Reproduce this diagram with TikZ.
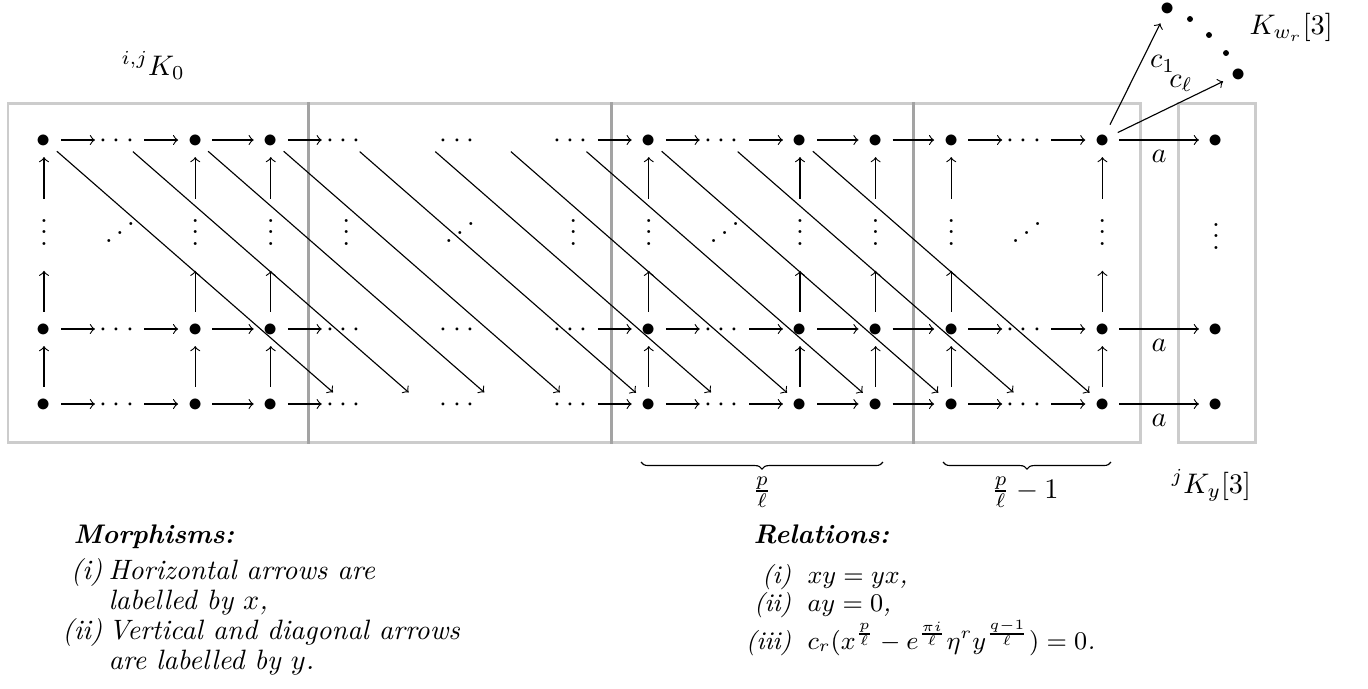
\documentclass[tikz,border=0pt]{standalone}
\usetikzlibrary{decorations.pathreplacing}
\newcommand\hdts{{\cdot}\kern1.92pt{\cdot}\kern1.92pt{\cdot}\kern2pt}
\newcommand\txtb{$\bullet$}
\newcommand\txth{$\hdts$}
\newcommand\txte{}
\newcommand\iddts{\reflectbox{$\ddots$}}
\begin{document}
\begin{tikzpicture}[x=0.3534pt,y=-0.3534pt,
  cellb/.style={circle, inner sep=0pt, minimum size=11.66pt, text height=5pt, text depth=0pt},
  cellh/.style={rectangle, inner sep=0pt, minimum width=17pt, minimum height=7.8pt, text height=5pt, text depth=0pt},
  celle/.style={cellh},
  vd/.style={inner sep=0pt, text height=16.2pt, text depth=8.9pt, anchor=base},
  dd/.style={inner sep=0pt, anchor=base},
  ar/.style={->},
  frame/.style={draw=black, draw opacity=0.2, line width=1.06pt},
  txt/.style={inner sep=0pt, font=\fontsize{9.9}{11}\selectfont\itshape},
  ttl/.style={inner sep=0pt, font=\fontsize{9.5}{11}\selectfont\bfseries\itshape},
  rtxt/.style={inner sep=0pt, font=\small\itshape},
  sdot/.style={circle, fill=black, inner sep=0pt, minimum size=2.1pt},
  brc/.style={decorate, decoration={brace, mirror, amplitude=2.5pt}}
]
\useasboundingbox (0,0) rectangle (1368,688);

% frames
\draw[frame] (8,103) rectangle (308,442);
\draw[frame] (308,103) rectangle (611,442);
\draw[frame] (611,103) rectangle (913,442);
\draw[frame] (913,103) rectangle (1140,442);
\draw[frame] (1178,103) rectangle (1255,442);

% grid cells
\foreach \r/\y in {0/140,2/329,3/404}{
  \foreach \c/\t in {0/b,1/h,2/b,3/b,4/h,5/e,6/e,7/h,8/b,9/h,10/b,11/b,12/b,13/h,14/b}{
    \node[cell\t] (n\r-\c) at ({44+75.6*\c},\y) {\csname txt\t\endcsname};
  }
  \node[cellb] (n\r-15) at (1216,\y) {\txtb};
  \node[cellh] (m\r) at (460,\y) {\txth};
}
% vertical dots
\foreach \c in {0,2,3,4,7,8,10,11,12,14}{
  \node[vd] (v-\c) at ({44+75.6*\c},245) {$\vdots$};
}
\node[vd] (v-15) at (1216,249) {$\vdots$};
% diagonal dots
\node[dd] (d1) at (120,245.5) {\iddts};
\node[dd] (d2) at (460,245.5) {\iddts};
\node[dd] (d3) at (724.8,245.5) {\iddts};
\node[dd] (d4) at (1026.8,245.5) {\iddts};

% horizontal arrows
\foreach \r in {0,2,3}{
  \foreach \c [evaluate=\c as \d using int(\c+1)] in {0,1,2,3,7,8,9,10,11,12,13}{
    \draw[ar] (n\r-\c) -- (n\r-\d);
  }
  \draw[ar] (n\r-14) -- node[below] {$a$} (n\r-15);
}
% vertical arrows
\foreach \c in {0,2,3,8,10,11,12,14}{
  \draw[ar] (n3-\c) -- (n2-\c);
  \draw[ar] (n2-\c) -- (v-\c);
  \draw[ar] (v-\c) -- (n0-\c);
}
% diagonal arrows
\foreach \c [evaluate=\c as \d using int(\c+4)] in {0,...,10}{
  \draw[ar] (n0-\c) -- (n3-\d);
}

% top right
\node[cellb] (t1) at (1168,8) {\txtb};
\node[cellb] (t2) at (1238.5,74) {\txtb};
\node[sdot] (s1) at (1190,19) {};
\node[sdot] (s2) at (1209,35) {};
\node[sdot] (s3) at (1226,53) {};
\draw[ar] (n0-14) -- node[pos=0.6, right] {$c_1$} (t1);
\draw[ar] (n0-14) -- node[pos=0.6, above] {$c_\ell$} (t2);
\node[inner sep=0pt, anchor=base west] (kw) at (1249,34) {$K_{w_r}[3]$};

% labels
\node[inner sep=0pt, anchor=base west] (k0) at (121,75) {${}^{i,j}K_0$};
\node[inner sep=0pt, anchor=base west] (ky) at (1171,493) {${}^{j}K_y[3]$};

% braces
\coordinate (b1a) at (641,462);
\coordinate (b1b) at (883,462);
\coordinate (b2a) at (943,462);
\coordinate (b2b) at (1111,462);
\draw[brc] (b1a) -- (b1b);
\draw[brc] (b2a) -- (b2b);
\node[inner sep=0pt, anchor=base] (bl1) at (762,498) {$\frac{p}{\ell}$};
\node[inner sep=0pt, anchor=base] (bl2) at (1025,498) {$\frac{p}{\ell}-1$};

% morphisms
\node[ttl, anchor=base west] (mh) at (73,543) {Morphisms:};
\node[txt, anchor=base east] (m1l) at (103,579) {(i)};
\node[txt, anchor=base west] (m1a) at (108,579) {Horizontal arrows are};
\node[txt, anchor=base west] (m1b) at (108,609) {labelled by $x$,};
\node[txt, anchor=base east] (m2l) at (103,639) {(ii)};
\node[txt, anchor=base west] (m2a) at (108,639) {Vertical and diagonal arrows};
\node[txt, anchor=base west] (m2b) at (108,669) {are labelled by $y$.};

% relations
\node[ttl, anchor=base west] (rh) at (753,543) {Relations:};
\node[rtxt, anchor=base east] (r1l) at (792,583) {(i)};
\node[rtxt, anchor=base west] (r1) at (807,583) {$xy=yx$,};
\node[rtxt, anchor=base east] (r2l) at (792,611) {(ii)};
\node[rtxt, anchor=base west] (r2) at (807,611) {$ay=0$,};
\node[rtxt, anchor=base east] (r3l) at (792,649) {(iii)};
\node[rtxt, anchor=base west] (r3) at (807,649) {$c_r(x^{\frac{p}{\ell}}-e^{\frac{\pi i}{\ell}}\eta^r y^{\frac{q-1}{\ell}})=0$.};
\end{tikzpicture}
\end{document}
